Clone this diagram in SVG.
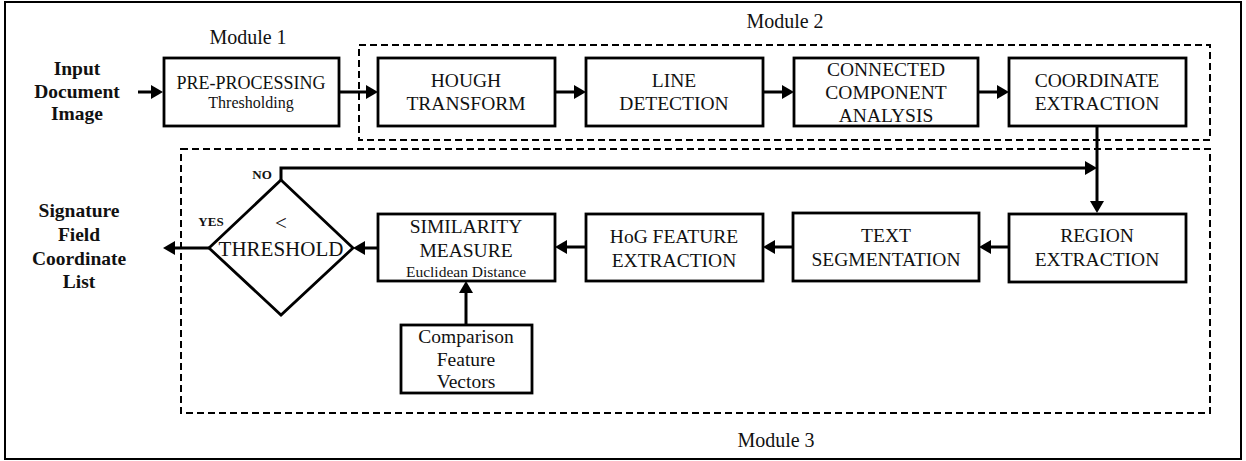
<svg xmlns="http://www.w3.org/2000/svg" width="1246" height="461" viewBox="0 0 1246 461">
<style>
.box{fill:#fff;stroke:#000;stroke-width:2.8}
.dash{fill:none;stroke:#000;stroke-width:2;stroke-dasharray:7 4}
.t{fill:#111;text-anchor:middle}
.b{font-weight:bold}
.c{fill:none;stroke:#000;stroke-width:3}
</style>
<defs>
<marker id="ah" markerUnits="userSpaceOnUse" markerWidth="14" markerHeight="16" refX="4" refY="7" orient="auto">
<path d="M0,0 L12,7 L0,14 z" fill="#000"/>
</marker>
</defs>
<rect x="5" y="2" width="1236" height="457" fill="#fff" stroke="#000" stroke-width="2"/>
<g font-family="Liberation Serif">
<g id="module2">
<rect class="dash" x="359" y="45" width="851" height="95"/>
<text class="t" x="785" y="28" font-size="20">Module 2</text>
</g>
<g id="module3">
<rect class="dash" x="181" y="149" width="1029" height="264"/>
<text class="t" x="776" y="447" font-size="20">Module 3</text>
</g>
<g id="input">
<text class="t b" x="77" y="75" font-size="19.5">Input</text>
<text class="t b" x="77" y="98" font-size="19.5">Document</text>
<text class="t b" x="77" y="120" font-size="19.5">Image</text>
</g>
<g id="output">
<text class="t b" x="79" y="217" font-size="19.5">Signature</text>
<text class="t b" x="79" y="241" font-size="19.5">Field</text>
<text class="t b" x="79" y="265" font-size="19.5">Coordinate</text>
<text class="t b" x="79" y="288" font-size="19.5">List</text>
</g>
<g id="preprocessing">
<text class="t" x="248" y="44" font-size="20">Module 1</text>
<rect class="box" x="164" y="58" width="175" height="68"/>
<text class="t" x="251" y="89" font-size="18">PRE-PROCESSING</text>
<text class="t" x="251" y="108" font-size="16">Thresholding</text>
</g>
<g id="hough">
<rect class="box" x="378" y="58" width="177" height="68"/>
<text class="t" x="466" y="87" font-size="19.5">HOUGH</text>
<text class="t" x="466" y="110" font-size="19.5">TRANSFORM</text>
</g>
<g id="line">
<rect class="box" x="586" y="58" width="177" height="68"/>
<text class="t" x="674" y="87" font-size="19.5">LINE</text>
<text class="t" x="674" y="110" font-size="19.5">DETECTION</text>
</g>
<g id="cca">
<rect class="box" x="794" y="58" width="184" height="68"/>
<text class="t" x="886" y="76" font-size="19.5">CONNECTED</text>
<text class="t" x="886" y="99" font-size="19.5">COMPONENT</text>
<text class="t" x="886" y="122" font-size="19.5">ANALYSIS</text>
</g>
<g id="coord">
<rect class="box" x="1009" y="58" width="177" height="68"/>
<text class="t" x="1097" y="87" font-size="19.5">COORDINATE</text>
<text class="t" x="1097" y="110" font-size="19.5">EXTRACTION</text>
</g>
<g id="region">
<rect class="box" x="1009" y="214" width="177" height="68"/>
<text class="t" x="1097" y="242" font-size="19.5">REGION</text>
<text class="t" x="1097" y="266" font-size="19.5">EXTRACTION</text>
</g>
<g id="textseg">
<rect class="box" x="793" y="213" width="186" height="68"/>
<text class="t" x="886" y="242" font-size="19.5">TEXT</text>
<text class="t" x="886" y="266" font-size="19.5">SEGMENTATION</text>
</g>
<g id="hog">
<rect class="box" x="586" y="214" width="177" height="67"/>
<text class="t" x="674" y="243" font-size="19.5">HoG FEATURE</text>
<text class="t" x="674" y="267" font-size="19.5">EXTRACTION</text>
</g>
<g id="similarity">
<rect class="box" x="378" y="214" width="177" height="67"/>
<text class="t" x="466" y="233" font-size="19.5">SIMILARITY</text>
<text class="t" x="466" y="257" font-size="19.5">MEASURE</text>
<text class="t" x="466" y="277" font-size="15.5">Euclidean Distance</text>
</g>
<g id="comparison">
<rect class="box" x="401" y="325" width="131" height="68"/>
<text class="t" x="466" y="343" font-size="19.5">Comparison</text>
<text class="t" x="466" y="366" font-size="19.5">Feature</text>
<text class="t" x="466" y="388" font-size="19.5">Vectors</text>
</g>
<g id="threshold">
<polygon class="box" points="281,180 353,248 281,315 209,248"/>
<text class="t" x="281" y="230" font-size="21">&lt;</text>
<text class="t" x="281" y="256" font-size="21">THRESHOLD</text>
</g>
<g id="connectors">
<line class="c" x1="138" y1="92" x2="155" y2="92" marker-end="url(#ah)"/>
<line class="c" x1="339" y1="92" x2="370" y2="92" marker-end="url(#ah)"/>
<line class="c" x1="555" y1="92" x2="578" y2="92" marker-end="url(#ah)"/>
<line class="c" x1="763" y1="92" x2="786" y2="92" marker-end="url(#ah)"/>
<line class="c" x1="978" y1="92" x2="1001" y2="92" marker-end="url(#ah)"/>
<line class="c" x1="1097" y1="126" x2="1097" y2="205" marker-end="url(#ah)"/>
<polyline class="c" points="281,180 281,168 1089,168" marker-end="url(#ah)"/>
<line class="c" x1="1009" y1="247" x2="987" y2="247" marker-end="url(#ah)"/>
<line class="c" x1="793" y1="247" x2="771" y2="247" marker-end="url(#ah)"/>
<line class="c" x1="586" y1="247" x2="563" y2="247" marker-end="url(#ah)"/>
<line class="c" x1="378" y1="248" x2="361" y2="248" marker-end="url(#ah)"/>
<line class="c" x1="209" y1="248" x2="171" y2="248" marker-end="url(#ah)"/>
<line class="c" x1="466" y1="325" x2="466" y2="289" marker-end="url(#ah)"/>
<text class="t b" x="262" y="179" font-size="13">NO</text>
<text class="t b" x="211" y="226" font-size="13">YES</text>
</g>
</g>
</svg>
